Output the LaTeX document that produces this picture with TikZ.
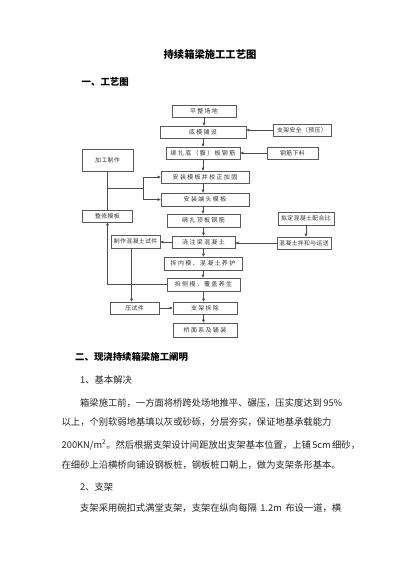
\documentclass[tikz,border=0pt]{standalone}
\usepackage{fontspec}
\setmainfont{Noto Sans CJK SC}
\newfontfamily\boxa[LetterSpace=22]{Noto Sans CJK SC}
\newfontfamily\boxb[LetterSpace=6]{Noto Sans CJK SC}
\XeTeXlinebreaklocale "zh"
\XeTeXlinebreakskip=0pt plus 1pt
\usetikzlibrary{arrows.meta}
\begin{document}
\begin{tikzpicture}[x=1pt,y=-1pt,
  fbox/.style={draw=black!65, line width=0.6pt, minimum height=12pt, inner sep=0pt, font=\boxa\fontsize{6}{7}\selectfont, text=black!80},
  sbox/.style={fbox, font=\boxb\fontsize{5.9}{7}\selectfont},
  arr/.style={draw=black!70, line width=0.6pt, -{Triangle[length=3pt,width=2.6pt]}},
  ln/.style={draw=black!70, line width=0.6pt},
  body/.style={anchor=west, inner sep=0pt, font=\fontsize{9.3}{11}\selectfont, text=black!85},
  head/.style={anchor=west, inner sep=0pt, font=\bfseries\fontsize{9.4}{11}\selectfont}]
\fill[white] (0,0) rectangle (400,566);
\useasboundingbox (0,0) rectangle (400,566);
% titles
\node[inner sep=0pt, font=\bfseries\fontsize{10.3}{12}\selectfont] (title) at (210,55) {持续箱梁施工工艺图};
\node[head] (h1) at (81.5,81.7) {一、工艺图};
% flowchart boxes
\node[fbox, minimum width=64pt] (b1) at (204,111) {平整场地};
\node[fbox, minimum width=86pt] (b2) at (203,132) {底模铺设};
\node[sbox, minimum width=58pt] (b3) at (302,130) {支架安全（预压）};
\node[sbox, minimum width=51pt] (b4) at (292.5,153) {钢筋下料};
\node[fbox, minimum width=74pt] (b5) at (203,153) {绑扎底（腹）板钢筋};
\node[sbox, minimum width=51pt, minimum height=22pt] (b6) at (107.5,160) {加工制作};
\node[fbox, minimum width=88pt] (b7) at (205,177) {安装模板并校正加固};
\node[fbox, minimum width=88pt, minimum height=13pt] (b8) at (205,199.5) {安装端头模板};
\node[fbox, minimum width=73pt, minimum height=13pt] (b9) at (203.5,220.5) {绑扎顶板钢筋};
\node[sbox, minimum width=50pt] (b10) at (107.5,216) {整修模板};
\node[sbox, minimum width=56pt, minimum height=13pt] (b11) at (306,218.5) {拟定混凝土配合比};
\node[sbox, minimum width=54pt] (b12) at (304,243) {混凝土拌和与运送};
\node[fbox, minimum width=63pt] (b13) at (203.5,242) {浇注梁混凝土};
\node[sbox, minimum width=49pt, minimum height=13pt] (b14) at (135.5,241.5) {制作混凝土试件};
\node[fbox, minimum width=78pt, minimum height=13pt] (b15) at (203,263.5) {拆内模、混凝土养护};
\node[fbox, minimum width=73pt, minimum height=13pt] (b16) at (203.5,284.5) {拆侧模，覆盖养生};
\node[sbox, minimum width=49pt] (b17) at (134.5,308) {压试件};
\node[fbox, minimum width=64pt] (b18) at (205,308) {支架拆除};
\node[fbox, minimum width=64pt, minimum height=14pt] (b19) at (205,330) {桥面系及铺装};
% main column
\draw[arr] (b1.south) -- (b1.south |- b2.north);
\draw[arr] (b2.south) -- (b2.south |- b5.north);
\draw[arr] (b5.south) -- (b5.south |- b7.north);
\draw[arr] (b5.south |- b7.south) -- (b5.south |- b8.north);
\draw[arr] (b5.south |- b8.south) -- (b5.south |- b9.north);
\draw[arr] (b9.south) -- (b9.south |- b13.north);
\draw[arr] (b13.south) -- (b13.south |- b15.north);
\draw[arr] (b15.south) -- (b15.south |- b16.north);
\draw[arr] (b16.south) -- (b16.south |- b18.north);
\draw[arr] (b16.south |- b18.south) -- (b16.south |- b19.north);
% side inputs
\draw[arr] (b3.west) -- (b3.west -| b2.east);
\draw[arr] (b4.west) -- (b4.west -| b5.east);
\draw[arr] (b11.south) -- (b11.south |- b12.north);
\draw[arr] (b12.west) -- (b12.west -| b13.east);
\draw[arr] (b13.west) -- (b13.west -| b14.east);
\draw[arr] ([xshift=-4pt]b14.south) -- ([xshift=-4pt]b14.south |- b17.north);
\draw[arr] (b17.east) -- (b17.east -| b18.west);
% formwork loop
\coordinate (j1) at (107.5,188);
\coordinate (j2) at (143,188);
\draw[ln] (b6.south) -- (b6.south |- b10.north);
\draw[ln] (j1) -- (j2);
\draw[ln] (j2 |- b7.west) -- (j2 |- b8.west);
\draw[arr] (j2 |- b7.west) -- (b7.west);
\draw[arr] (j2 |- b8.west) -- (b8.west);
\draw[arr] (b16.west) -| (b10.south);
% text section
\node[head] (h2) at (75,357.3) {二、现浇持续箱梁施工阐明};
\node[body] (s1) at (80,380) {1、基本解决};
\node[body] (l1) at (80,403.3) {\hbox to 262pt{箱梁施工前，一方面将桥跨处场地推平、碾压，压实度达到 95\%}};
\node[body] (l2) at (61.5,421.7) {\hbox to 280pt{以上，个别软弱地基填以灰或砂砾，分层夯实，保证地基承载能力}};
\node[body] (l3) at (61.5,445) {\hbox to 280pt{200KN/m\textsuperscript{2}。然后根据支架设计间距放出支架基本位置，上铺 5cm 细砂，}};
\node[body] (l4) at (61.5,465) {在细砂上沿横桥向铺设钢板桩，钢板桩口朝上，做为支架条形基本。};
\node[body] (s2) at (80,486.7) {2、支架};
\node[body] (l5) at (80,508.3) {\hbox to 261pt{支架采用碗扣式满堂支架，支架在纵向每隔 1.2m 布设一道，横}};
\end{tikzpicture}
\end{document}
